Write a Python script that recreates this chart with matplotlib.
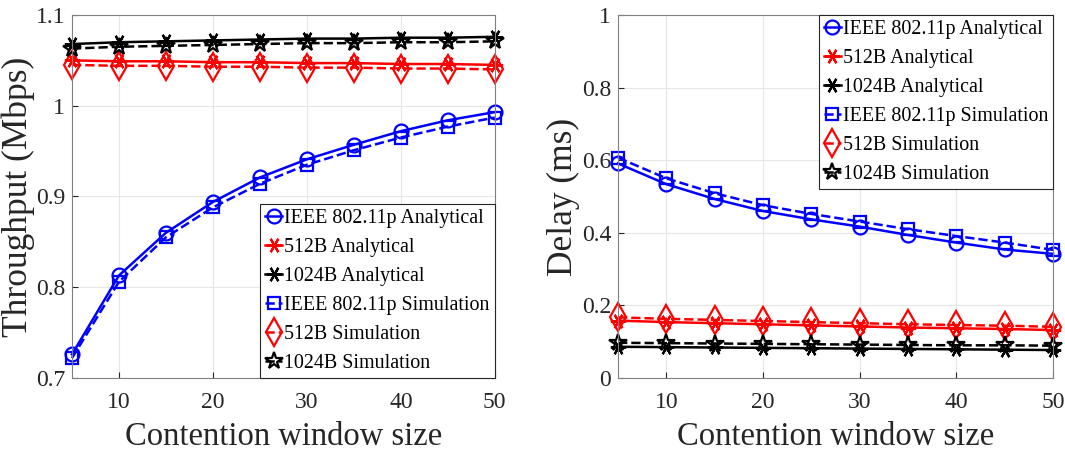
import matplotlib
matplotlib.use("Agg")
import matplotlib.pyplot as plt

plt.rcParams['font.family'] = ['Liberation Serif', 'DejaVu Serif']

cw = [5, 10, 15, 20, 25, 30, 35, 40, 45, 50]

# Throughput (Mbps)
thr_ieee_ana = [0.726, 0.813, 0.860, 0.894, 0.921, 0.941, 0.957, 0.972, 0.984, 0.993]
thr_512_ana = [1.050, 1.049, 1.049, 1.048, 1.048, 1.047, 1.047, 1.046, 1.046, 1.045]
thr_1024_ana = [1.068, 1.070, 1.071, 1.072, 1.073, 1.074, 1.074, 1.075, 1.075, 1.076]
thr_ieee_sim = [0.722, 0.806, 0.855, 0.888, 0.914, 0.935, 0.951, 0.965, 0.977, 0.987]
thr_512_sim = [1.045, 1.044, 1.044, 1.043, 1.043, 1.042, 1.042, 1.041, 1.041, 1.040]
thr_1024_sim = [1.063, 1.065, 1.066, 1.067, 1.068, 1.069, 1.069, 1.070, 1.070, 1.071]

# Delay (ms)
del_ieee_ana = [0.591, 0.534, 0.493, 0.460, 0.437, 0.417, 0.394, 0.373, 0.354, 0.342]
del_512_ana = [0.158, 0.154, 0.151, 0.148, 0.145, 0.142, 0.139, 0.137, 0.135, 0.132]
del_1024_ana = [0.086, 0.085, 0.084, 0.083, 0.082, 0.081, 0.080, 0.079, 0.078, 0.077]
del_ieee_sim = [0.607, 0.550, 0.509, 0.476, 0.452, 0.431, 0.410, 0.391, 0.373, 0.353]
del_512_sim = [0.167, 0.163, 0.160, 0.157, 0.154, 0.151, 0.148, 0.146, 0.144, 0.141]
del_1024_sim = [0.097, 0.096, 0.095, 0.094, 0.093, 0.092, 0.091, 0.090, 0.090, 0.089]

labels = ["IEEE 802.11p Analytical", "512B Analytical", "1024B Analytical",
          "IEEE 802.11p Simulation", "512B Simulation", "1024B Simulation"]

asterisk = (6, 2, 90)
styles = [
    dict(color='#0000FF', ls='-', marker='o', ms=10),
    dict(color='#FF0000', ls='-', marker=asterisk, ms=11),
    dict(color='black', ls='-', marker=asterisk, ms=11),
    dict(color='#0000FF', ls='--', marker='s', ms=9),
    dict(color='#FF0000', ls='--', marker='d', ms=14),
    dict(color='black', ls='--', marker='*', ms=13),
]

fig = plt.figure(figsize=(10.65, 4.59), dpi=100)
ax1 = fig.add_axes([0.0676, 0.1765, 0.397, 0.7908])
ax2 = fig.add_axes([0.5803, 0.1765, 0.4085, 0.7908])


def draw(ax, series, ylim, yticks, ylabel, loc, anchor, ylab_x):
    for vals, st, lab in zip(series, styles, labels):
        ax.plot(cw, vals, color=st['color'], ls=st['ls'], lw=1.8,
                marker=st['marker'], ms=st['ms'], mfc='none',
                mec=st['color'], mew=1.6, label=lab, clip_on=False)
    ax.set_xlim(5, 50)
    ax.set_ylim(*ylim)
    ax.set_xticks([10, 20, 30, 40, 50])
    ax.set_yticks(yticks)
    ax.set_yticklabels([f"{t:g}" for t in yticks])
    ax.grid(True, color='#E6E6E6', lw=0.8)
    ax.set_axisbelow(True)
    for s in ax.spines.values():
        s.set_color('#808080')
        s.set_linewidth(0.8)
    ax.tick_params(direction='in', length=4, colors='#262626', labelsize=17,
                   top=False, right=False)
    ax.tick_params(axis='x', pad=10)
    ax.tick_params(axis='y', pad=5)
    ax.set_xlabel("Contention window size", fontsize=23.5, color='#262626', labelpad=6)
    ax.set_ylabel(ylabel, fontsize=25.5, color='#262626')
    ax.yaxis.set_label_coords(ylab_x, 0.5)
    leg = ax.legend(loc=loc, bbox_to_anchor=anchor, fontsize=14.4, frameon=True,
                    fancybox=False, framealpha=1, edgecolor='#262626',
                    handlelength=0.85, handletextpad=0.1, labelspacing=0.5,
                    borderpad=0.25, borderaxespad=0.0)
    leg.get_frame().set_linewidth(0.8)


draw(ax1, [thr_ieee_ana, thr_512_ana, thr_1024_ana, thr_ieee_sim, thr_512_sim, thr_1024_sim],
     (0.7, 1.1), [0.7, 0.8, 0.9, 1.0, 1.1], "Throughput (Mbps)", 'lower right', (1, 0), -0.088)
draw(ax2, [del_ieee_ana, del_512_ana, del_1024_ana, del_ieee_sim, del_512_sim, del_1024_sim],
     (0, 1), [0, 0.2, 0.4, 0.6, 0.8, 1.0], "Delay (ms)", 'upper right', (1, 1), -0.088)

fig.savefig("out.png", dpi=100)
